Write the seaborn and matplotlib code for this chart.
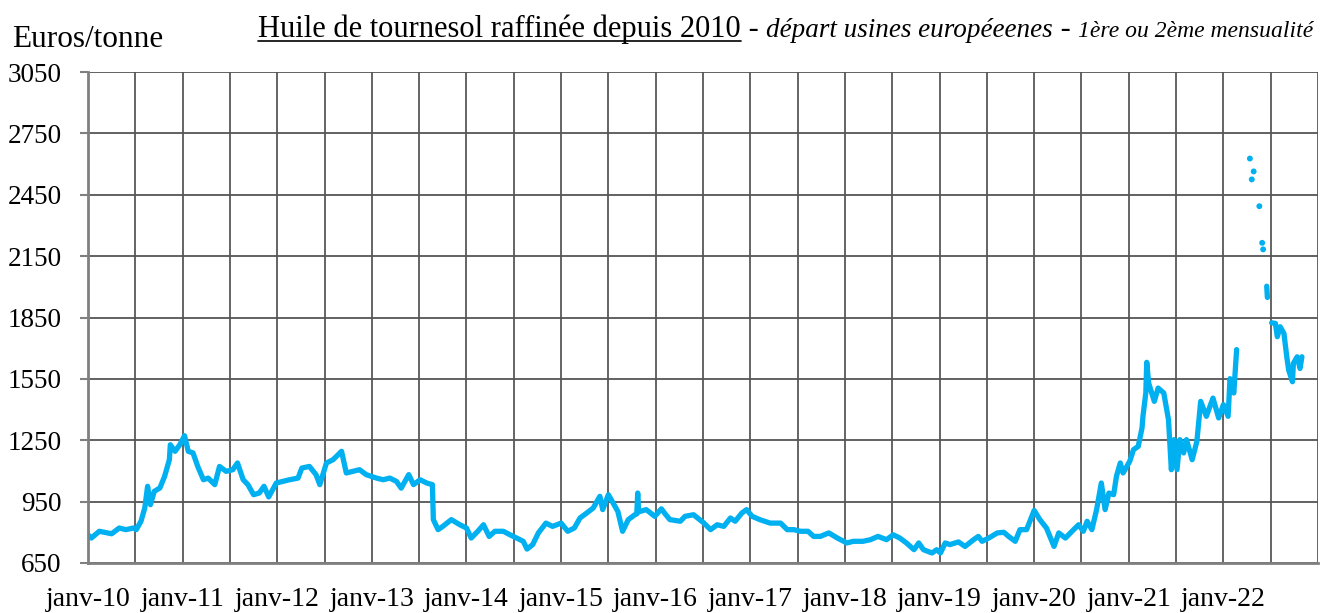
import numpy as np
import pandas as pd
import matplotlib
matplotlib.use('Agg')
import matplotlib.pyplot as plt
import seaborn as sns
from matplotlib.lines import Line2D

# prix huile de tournesol raffinée (EUR/t), x = année décimale
annees_a = [2010.00, 2010.035, 2010.12, 2010.25, 2010.33, 2010.40, 2010.48, 2010.51, 2010.56, 2010.60,
            2010.63, 2010.66, 2010.70, 2010.76, 2010.81, 2010.86, 2010.87, 2010.92, 2010.97, 2011.02,
            2011.06, 2011.11, 2011.16, 2011.22, 2011.27, 2011.34, 2011.39, 2011.46, 2011.53, 2011.58,
            2011.64, 2011.69, 2011.75, 2011.81, 2011.86, 2011.91, 2011.99, 2012.06, 2012.13, 2012.22,
            2012.26, 2012.34, 2012.41, 2012.45, 2012.52, 2012.59, 2012.68, 2012.73, 2012.80, 2012.87,
            2012.94, 2013.00, 2013.05, 2013.12, 2013.19, 2013.26, 2013.31, 2013.39, 2013.44, 2013.51,
            2013.58, 2013.64, 2013.65, 2013.70, 2013.75, 2013.84, 2013.93, 2014.00, 2014.05, 2014.12,
            2014.18, 2014.24, 2014.30, 2014.39, 2014.46, 2014.53, 2014.60, 2014.64, 2014.70, 2014.76,
            2014.84, 2014.91, 2015.00, 2015.07, 2015.14, 2015.20, 2015.27, 2015.34, 2015.41, 2015.44,
            2015.50, 2015.55, 2015.60, 2015.65, 2015.71, 2015.78, 2015.80, 2015.81, 2015.82, 2015.90,
            2015.99, 2016.06, 2016.10, 2016.15, 2016.26, 2016.31, 2016.40, 2016.51, 2016.58, 2016.65,
            2016.72, 2016.79, 2016.84, 2016.91, 2016.96, 2017.02, 2017.10, 2017.21, 2017.32, 2017.39,
            2017.46, 2017.53, 2017.61, 2017.67, 2017.74, 2017.83, 2017.92, 2018.02, 2018.09, 2018.19,
            2018.27, 2018.35, 2018.44, 2018.51, 2018.58, 2018.65, 2018.73, 2018.78, 2018.83, 2018.92,
            2018.97, 2019.01, 2019.06, 2019.11, 2019.20, 2019.27, 2019.36, 2019.41, 2019.45, 2019.52,
            2019.61, 2019.68, 2019.73, 2019.80, 2019.85, 2019.92, 2020.00, 2020.06, 2020.13, 2020.21,
            2020.26, 2020.33, 2020.40, 2020.47, 2020.52, 2020.56, 2020.61, 2020.66, 2020.71, 2020.75,
            2020.79, 2020.84, 2020.87, 2020.91, 2020.94, 2021.01, 2021.05, 2021.10, 2021.14, 2021.15,
            2021.18, 2021.19, 2021.21, 2021.27, 2021.31, 2021.37, 2021.42, 2021.45, 2021.48, 2021.51,
            2021.54, 2021.58, 2021.61, 2021.67, 2021.72, 2021.76, 2021.82, 2021.89, 2021.95, 2022.00,
            2022.05, 2022.07, 2022.11, 2022.14]
prix_a = [788, 772, 805, 793, 821, 813, 821, 813, 854, 919,
          1025, 935, 1000, 1017, 1074, 1155, 1228, 1196, 1228, 1272,
          1196, 1188, 1122, 1057, 1065, 1033, 1122, 1098, 1106, 1139,
          1057, 1033, 984, 992, 1025, 973, 1041, 1049, 1057, 1065,
          1114, 1122, 1082, 1033, 1139, 1155, 1196, 1090, 1098, 1106,
          1082, 1073, 1065, 1057, 1065, 1049, 1016, 1082, 1033, 1057,
          1041, 1033, 862, 813, 829, 862, 837, 821, 772, 805,
          837, 780, 805, 805, 788, 772, 756, 718, 740, 797,
          845, 829, 845, 805, 821, 870, 894, 919, 976, 911,
          984, 943, 902, 805, 862, 886, 890, 992, 900, 911,
          878, 915, 890, 862, 854, 878, 886, 845, 813, 837,
          829, 870, 854, 894, 911, 878, 862, 845, 845, 813,
          813, 805, 805, 780, 780, 797, 772, 748, 756, 756,
          764, 780, 764, 788, 772, 748, 715, 748, 715, 699,
          715, 699, 748, 740, 753, 731, 764, 780, 756, 772,
          797, 800, 780, 756, 813, 813, 907, 862, 821, 731,
          797, 772, 805, 837, 805, 854, 813, 911, 1041, 911,
          992, 984, 1074, 1139, 1090, 1147, 1204, 1220, 1310, 1367,
          1481, 1631, 1530, 1440, 1505, 1481, 1350, 1106, 1253, 1106,
          1253, 1188, 1253, 1155, 1245, 1440, 1367, 1456, 1359, 1424,
          1367, 1551, 1481, 1693]

annees_b = [2022.458, 2022.465]
prix_b = [2003, 1948]

annees_c = [2022.51, 2022.55, 2022.57, 2022.60, 2022.64, 2022.67, 2022.69, 2022.73, 2022.74,
            2022.78, 2022.81, 2022.83]
prix_c = [1824, 1821, 1756, 1805, 1772, 1658, 1593, 1536, 1626, 1658, 1601, 1658]

# cotations isolées (printemps 2022)
annees_pts = [2022.28, 2022.30, 2022.32, 2022.38, 2022.41, 2022.42]
prix_pts = [2627, 2525, 2564, 2394, 2215, 2183]

df = pd.concat([
    pd.DataFrame({'annee': annees_a, 'prix': prix_a, 'troncon': 'a'}),
    pd.DataFrame({'annee': annees_b, 'prix': prix_b, 'troncon': 'b'}),
    pd.DataFrame({'annee': annees_c, 'prix': prix_c, 'troncon': 'c'}),
], ignore_index=True)

bleu = '#00B0F0'
W, H = 1324, 613

sns.set_theme(style='white')
plt.rcParams['font.family'] = ['Liberation Serif', 'DejaVu Serif']

fig = plt.figure(figsize=(W / 100, H / 100), dpi=100)
ax = fig.add_axes([88 / W, 1 - 563 / H, (1318 - 88) / W, (563 - 72) / H])

sns.lineplot(data=df, x='annee', y='prix', units='troncon', estimator=None, color=bleu,
             lw=3.8, ax=ax, legend=False, solid_capstyle='round', solid_joinstyle='round')
sns.scatterplot(x=annees_pts, y=prix_pts, color=bleu, s=18, edgecolor='none', ax=ax, legend=False)

ax.set_xlim(2010, 2023)
ax.set_ylim(650, 3050)
ax.set_yticks(range(650, 3051, 300))
ax.set_xticks(range(2010, 2023))
ax.set_xticklabels(['janv-%02d' % (a % 100) for a in range(2010, 2023)])
ax.set_xticks(np.arange(2010.5, 2023.01, 0.5), minor=True)
ax.set_xlabel('')
ax.set_ylabel('')

ax.grid(True, which='both', axis='x', color='#3a3a3a', lw=1.1)
ax.grid(True, which='major', axis='y', color='#555555', lw=1.3)
ax.tick_params(axis='x', which='both', length=0, pad=17, labelsize=20, labelcolor='black')
ax.tick_params(axis='y', left=True, length=6, width=1.5, color='#808080', pad=13,
               labelsize=19.5, labelcolor='black')
for s in ['top', 'right']:
    ax.spines[s].set_visible(False)
for s in ['left', 'bottom']:
    ax.spines[s].set_color('#808080')
    ax.spines[s].set_linewidth(2)

fig.text(12 / W, 1 - 47 / H, 'Euros/tonne', fontsize=22.5, va='baseline', ha='left', color='black')

# titre en plusieurs morceaux
morceaux = [('Huile de tournesol raffinée depuis 2010', 'normal', 22),
            (' - ', 'normal', 22),
            ('départ usines européeenes', 'italic', 19.5),
            (' - ', 'normal', 22),
            ('1ère ou 2ème mensualité', 'italic', 17)]
renderer = fig.canvas.get_renderer()
x = 258
yb = 1 - 37 / H
for i, (txt, style, taille) in enumerate(morceaux):
    t = fig.text(x / W, yb, txt, fontsize=taille, style=style, va='baseline', ha='left', color='black')
    bb = t.get_window_extent(renderer)
    if i == 0:
        fig.add_artist(Line2D([bb.x0 / W, bb.x1 / W], [yb - 4 / H, yb - 4 / H],
                              transform=fig.transFigure, color='black', lw=1.2))
    x = bb.x1

fig.savefig('out.png', dpi=100)
